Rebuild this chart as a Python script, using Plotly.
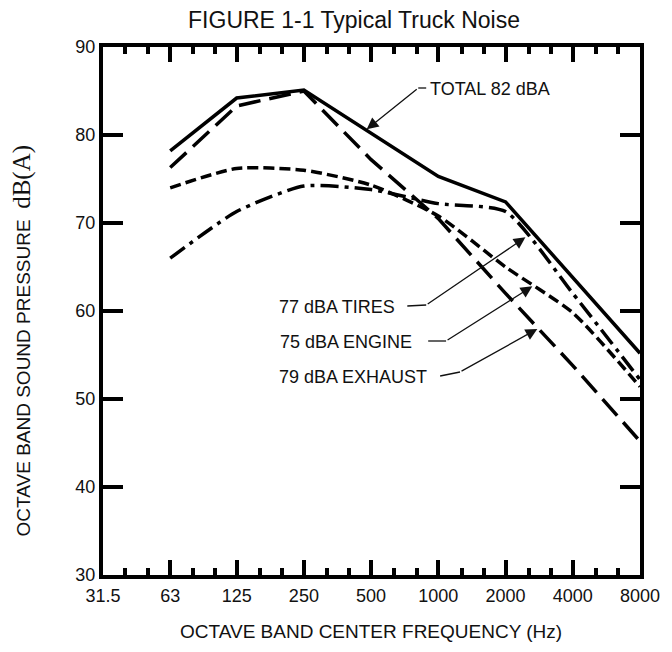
import math
import numpy as np
import plotly.graph_objects as go

# ---------------- data ----------------
freq_hz = [63, 125, 250, 500, 1000, 2000, 4000, 8000]
total_dba = [78.2, 84.2, 85.1, 80.2, 75.3, 72.4, 63.8, 55.2]
exhaust_dba = [76.3, 83.3, 85.0, 77.2, 70.5, 62.0, 53.8, 45.2]
engine_dba = [74.0, 76.2, 76.0, 74.3, 70.8, 65.0, 59.8, 51.4]
tires_dba = [66.0, 71.3, 74.2, 73.8, 72.2, 71.3, 62.0, 52.2]

x_tick_vals = [31.5, 63, 125, 250, 500, 1000, 2000, 4000, 8000]
x_tick_text = ["31.5", "63", "125", "250", "500", "1000", "2000", "4000", "8000"]
y_tick_vals = [30, 40, 50, 60, 70, 80, 90]

label_total = "TOTAL 82 dBA"
label_tires = "77 dBA TIRES"
label_engine = "75 dBA ENGINE"
label_exhaust = "79 dBA EXHAUST"

# ---------------- layout geometry ----------------
W, H = 672, 652
ML, MR, MT, MB = 103, 29, 47, 77
PW, PH = W - ML - MR, H - MT - MB
X0, X1 = math.log10(31.5), math.log10(8000)
Y0, Y1 = 30, 90
FONT = "Liberation Sans, Arial, sans-serif"


def px_to_data(px, py):
    return X0 + (px - ML) / PW * (X1 - X0), Y0 + (H - MB - py) / PH * (Y1 - Y0)


def px_to_paper(px, py):
    return (px - ML) / PW, (H - MB - py) / PH


def on_curve(values, f):
    return float(np.interp(math.log10(f), np.log10(freq_hz), values))


fig = go.Figure()

series = [
    (total_dba, "solid", "linear"),
    (exhaust_dba, "22px,9px", "linear"),
    (engine_dba, "11px,5px", "spline"),
    (tires_dba, "18px,6px,4px,6px", "spline"),
]
for vals, dash, shape in series:
    fig.add_trace(go.Scatter(
        x=freq_hz, y=vals, mode="lines",
        line=dict(color="black", width=3.5, dash=dash, shape=shape,
                  smoothing=0.6 if shape == "spline" else None),
        showlegend=False, hoverinfo="skip"))

# minor ticks at 1/3 octaves
minor_vals = [31.5 * 2 ** (k / 3) for k in range(1, 24) if k % 3 != 0]

fig.update_xaxes(
    type="log", range=[X0, X1],
    tickmode="array", tickvals=x_tick_vals, ticktext=x_tick_text,
    ticks="inside", ticklen=15, tickwidth=4, tickcolor="black",
    showline=True, linewidth=4, linecolor="black", mirror="allticks",
    showgrid=False, zeroline=False,
    tickfont=dict(family=FONT, size=18, color="#111"),
    ticklabelstandoff=1,
    minor=dict(tickmode="array", tickvals=minor_vals, ticks="inside",
               ticklen=7, tickwidth=4, tickcolor="black", showgrid=False),
)
fig.update_yaxes(
    range=[Y0, Y1], tickmode="array", tickvals=y_tick_vals,
    ticks="inside", ticklen=20, tickwidth=4, tickcolor="black",
    showline=True, linewidth=4, linecolor="black", mirror="allticks",
    showgrid=False, zeroline=False,
    tickfont=dict(family=FONT, size=18, color="#111"),
)

annotations = []
shapes = []

# callouts: (label, series, head freq, text left px, text y px, leader start px, tail px, tail py)
callouts = [
    (label_total, total_dba, 474, 430, 89, None, 420, 88),
    (label_tires, tires_dba, 2476, 278, 307, 409, 428, 305),
    (label_engine, engine_dba, 2659, 279, 342, 430, 448, 341),
    (label_exhaust, exhaust_dba, 2800, 278, 377, 442, 462, 372),
]
for text, vals, hf, tx, ty, lead_x, tail_x, tail_y in callouts:
    xp, yp = px_to_paper(tx, ty)
    annotations.append(dict(
        text=text, xref="paper", yref="paper", x=xp, y=yp,
        xanchor="left", yanchor="middle", showarrow=False,
        font=dict(family=FONT, size=18, color="#111")))
    ax, ay = px_to_data(tail_x, tail_y)
    annotations.append(dict(
        text="", xref="x", yref="y", x=math.log10(hf), y=on_curve(vals, hf),
        axref="x", ayref="y", ax=ax, ay=ay, showarrow=True,
        arrowhead=2, arrowsize=1.8, arrowwidth=1.3, arrowcolor="#111",
        standoff=1))
    start_x = lead_x if lead_x is not None else tx - 2
    a = px_to_paper(start_x, ty - 1)
    b = px_to_paper(tail_x, tail_y)
    shapes.append(dict(type="line", xref="paper", yref="paper",
                       x0=a[0], y0=a[1], x1=b[0], y1=b[1],
                       line=dict(color="#111", width=1.3)))

# axis titles
xt = px_to_paper(372, 631)
annotations.append(dict(
    text="OCTAVE BAND CENTER FREQUENCY (Hz)", xref="paper", yref="paper",
    x=xt[0], y=xt[1], xanchor="center", yanchor="middle", showarrow=False,
    font=dict(family=FONT, size=19, color="#111")))
yt = px_to_paper(22, 340)
annotations.append(dict(
    text='OCTAVE BAND SOUND PRESSURE  <span style="font-family:Liberation Serif, Times New Roman, serif;font-size:25px">dB(A)</span>',
    xref="paper", yref="paper", x=yt[0], y=yt[1], textangle=-90,
    xanchor="center", yanchor="middle", showarrow=False,
    font=dict(family=FONT, size=19, color="#111")))

fig.update_layout(
    width=W, height=H,
    margin=dict(l=ML, r=MR, t=MT, b=MB),
    paper_bgcolor="white", plot_bgcolor="white",
    title=dict(text="FIGURE 1-1 Typical Truck Noise", x=354 / W, xanchor="center",
               y=1 - 20 / H, yanchor="middle",
               font=dict(family=FONT, size=23, color="#111")),
    annotations=annotations, shapes=shapes,
)

fig.write_html("out.html", config={"displayModeBar": False},
               post_script="document.body.style.margin='0';document.body.style.overflow='hidden';")
